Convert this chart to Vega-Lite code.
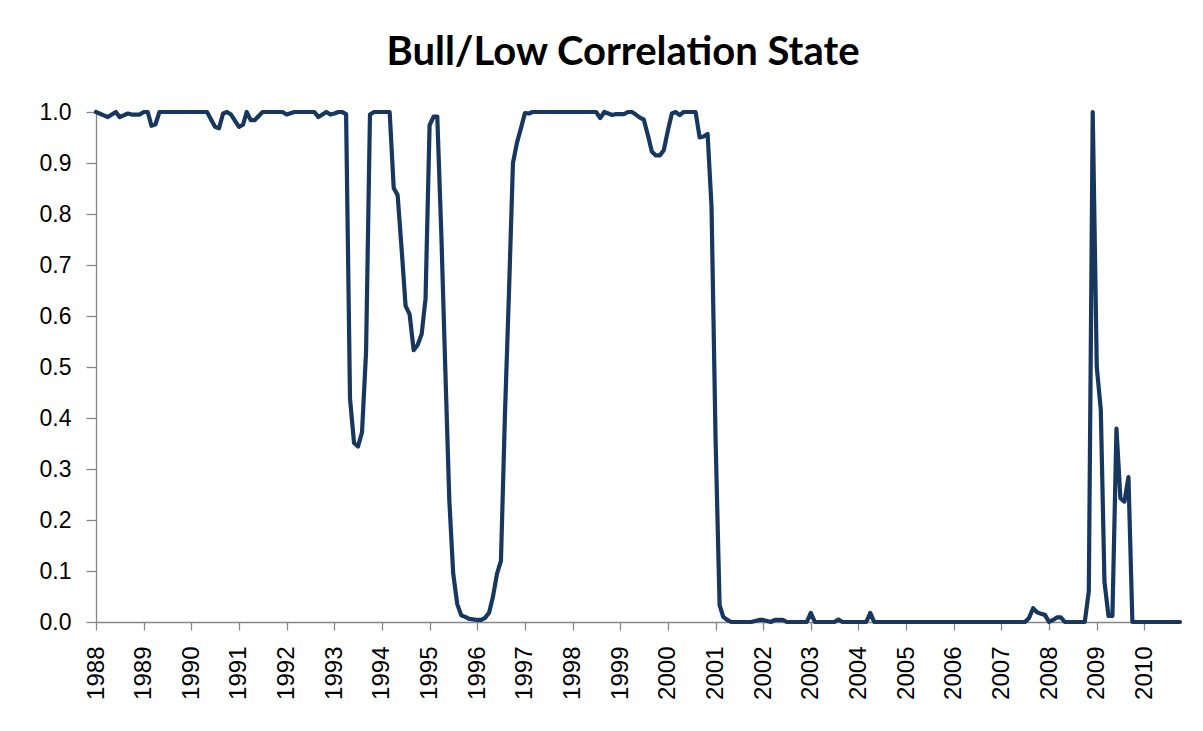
{
  "$schema": "https://vega.github.io/schema/vega-lite/v6.json",
  "autosize": "none",
  "width": 1084,
  "height": 510,
  "padding": {"left": 96, "top": 112, "right": 23, "bottom": 109},
  "background": "white",
  "config": {"view": {"stroke": null}},
  "title": {
    "text": "Bull/Low Correlation State",
    "font": "Lato",
    "fontSize": 40,
    "fontWeight": "bold",
    "color": "black",
    "anchor": "middle",
    "baseline": "alphabetic",
    "dx": -15,
    "dy": 52,
    "offset": 48
  },
  "data": {
    "values": [
      {"date": "1988-01-01", "value": 1.0},
      {"date": "1988-04-01", "value": 0.99},
      {"date": "1988-06-01", "value": 1.0},
      {"date": "1988-07-01", "value": 0.99},
      {"date": "1988-09-01", "value": 0.997},
      {"date": "1988-10-01", "value": 0.995},
      {"date": "1988-12-01", "value": 0.995},
      {"date": "1989-01-01", "value": 1.0},
      {"date": "1989-02-01", "value": 1.0},
      {"date": "1989-03-01", "value": 0.973},
      {"date": "1989-04-01", "value": 0.976},
      {"date": "1989-05-01", "value": 1.0},
      {"date": "1990-05-01", "value": 1.0},
      {"date": "1990-07-01", "value": 0.971},
      {"date": "1990-08-01", "value": 0.968},
      {"date": "1990-09-01", "value": 0.997},
      {"date": "1990-10-01", "value": 1.0},
      {"date": "1990-11-01", "value": 0.995},
      {"date": "1991-01-01", "value": 0.971},
      {"date": "1991-02-01", "value": 0.975},
      {"date": "1991-03-01", "value": 1.0},
      {"date": "1991-04-01", "value": 0.984},
      {"date": "1991-05-01", "value": 0.984},
      {"date": "1991-07-01", "value": 1.0},
      {"date": "1991-12-01", "value": 1.0},
      {"date": "1992-01-01", "value": 0.995},
      {"date": "1992-03-01", "value": 1.0},
      {"date": "1992-08-01", "value": 1.0},
      {"date": "1992-09-01", "value": 0.99},
      {"date": "1992-11-01", "value": 1.0},
      {"date": "1992-12-01", "value": 0.995},
      {"date": "1993-01-01", "value": 0.997},
      {"date": "1993-02-01", "value": 1.0},
      {"date": "1993-03-01", "value": 1.0},
      {"date": "1993-04-01", "value": 0.996},
      {"date": "1993-05-01", "value": 0.438},
      {"date": "1993-06-01", "value": 0.351},
      {"date": "1993-07-01", "value": 0.344},
      {"date": "1993-08-01", "value": 0.372},
      {"date": "1993-09-01", "value": 0.529},
      {"date": "1993-10-01", "value": 0.995},
      {"date": "1993-11-01", "value": 1.0},
      {"date": "1994-03-01", "value": 1.0},
      {"date": "1994-04-01", "value": 0.851},
      {"date": "1994-05-01", "value": 0.837},
      {"date": "1994-06-01", "value": 0.73},
      {"date": "1994-07-01", "value": 0.62},
      {"date": "1994-08-01", "value": 0.603},
      {"date": "1994-09-01", "value": 0.533},
      {"date": "1994-10-01", "value": 0.543},
      {"date": "1994-11-01", "value": 0.564},
      {"date": "1994-12-01", "value": 0.634},
      {"date": "1995-01-01", "value": 0.974},
      {"date": "1995-02-01", "value": 0.991},
      {"date": "1995-03-01", "value": 0.991},
      {"date": "1995-04-01", "value": 0.76},
      {"date": "1995-05-01", "value": 0.5},
      {"date": "1995-06-01", "value": 0.24},
      {"date": "1995-07-01", "value": 0.095},
      {"date": "1995-08-01", "value": 0.035},
      {"date": "1995-09-01", "value": 0.013},
      {"date": "1995-10-01", "value": 0.01},
      {"date": "1995-11-01", "value": 0.006},
      {"date": "1995-12-01", "value": 0.005},
      {"date": "1996-01-01", "value": 0.004},
      {"date": "1996-02-01", "value": 0.004},
      {"date": "1996-03-01", "value": 0.008},
      {"date": "1996-04-01", "value": 0.018},
      {"date": "1996-05-01", "value": 0.05},
      {"date": "1996-06-01", "value": 0.095},
      {"date": "1996-07-01", "value": 0.12},
      {"date": "1996-08-01", "value": 0.41},
      {"date": "1996-09-01", "value": 0.65},
      {"date": "1996-10-01", "value": 0.9},
      {"date": "1996-11-01", "value": 0.94},
      {"date": "1996-12-01", "value": 0.968},
      {"date": "1997-01-01", "value": 0.998},
      {"date": "1997-02-01", "value": 0.997},
      {"date": "1997-03-01", "value": 1.0},
      {"date": "1998-07-01", "value": 1.0},
      {"date": "1998-08-01", "value": 0.988},
      {"date": "1998-09-01", "value": 1.0},
      {"date": "1998-11-01", "value": 0.994},
      {"date": "1998-12-01", "value": 0.996},
      {"date": "1999-02-01", "value": 0.996},
      {"date": "1999-03-01", "value": 1.0},
      {"date": "1999-04-01", "value": 1.0},
      {"date": "1999-05-01", "value": 0.995},
      {"date": "1999-06-01", "value": 0.989},
      {"date": "1999-07-01", "value": 0.985},
      {"date": "1999-08-01", "value": 0.955},
      {"date": "1999-09-01", "value": 0.922},
      {"date": "1999-10-01", "value": 0.915},
      {"date": "1999-11-01", "value": 0.915},
      {"date": "1999-12-01", "value": 0.925},
      {"date": "2000-01-01", "value": 0.963},
      {"date": "2000-02-01", "value": 0.997},
      {"date": "2000-03-01", "value": 1.0},
      {"date": "2000-04-01", "value": 0.994},
      {"date": "2000-05-01", "value": 1.0},
      {"date": "2000-08-01", "value": 1.0},
      {"date": "2000-09-01", "value": 0.95},
      {"date": "2000-10-01", "value": 0.952},
      {"date": "2000-11-01", "value": 0.957},
      {"date": "2000-12-01", "value": 0.815},
      {"date": "2001-01-01", "value": 0.36},
      {"date": "2001-02-01", "value": 0.033},
      {"date": "2001-03-01", "value": 0.01},
      {"date": "2001-04-01", "value": 0.004},
      {"date": "2001-05-01", "value": 0.0},
      {"date": "2001-10-01", "value": 0.0},
      {"date": "2001-12-01", "value": 0.004},
      {"date": "2002-01-01", "value": 0.004},
      {"date": "2002-03-01", "value": 0.0},
      {"date": "2002-04-01", "value": 0.004},
      {"date": "2002-06-01", "value": 0.004},
      {"date": "2002-07-01", "value": 0.0},
      {"date": "2002-12-01", "value": 0.0},
      {"date": "2003-01-01", "value": 0.018},
      {"date": "2003-02-01", "value": 0.0},
      {"date": "2003-07-01", "value": 0.0},
      {"date": "2003-08-01", "value": 0.005},
      {"date": "2003-09-01", "value": 0.0},
      {"date": "2004-03-01", "value": 0.0},
      {"date": "2004-04-01", "value": 0.018},
      {"date": "2004-05-01", "value": 0.0},
      {"date": "2007-07-01", "value": 0.0},
      {"date": "2007-08-01", "value": 0.008},
      {"date": "2007-09-01", "value": 0.027},
      {"date": "2007-10-01", "value": 0.019},
      {"date": "2007-11-01", "value": 0.016},
      {"date": "2007-12-01", "value": 0.014},
      {"date": "2008-01-01", "value": 0.0},
      {"date": "2008-02-01", "value": 0.004},
      {"date": "2008-03-01", "value": 0.009},
      {"date": "2008-04-01", "value": 0.009},
      {"date": "2008-05-01", "value": 0.0},
      {"date": "2008-10-01", "value": 0.0},
      {"date": "2008-11-01", "value": 0.06},
      {"date": "2008-12-01", "value": 1.0},
      {"date": "2009-01-01", "value": 0.5},
      {"date": "2009-02-01", "value": 0.416},
      {"date": "2009-03-01", "value": 0.079},
      {"date": "2009-04-01", "value": 0.012},
      {"date": "2009-05-01", "value": 0.012},
      {"date": "2009-06-01", "value": 0.379},
      {"date": "2009-07-01", "value": 0.243},
      {"date": "2009-08-01", "value": 0.236},
      {"date": "2009-09-01", "value": 0.284},
      {"date": "2009-10-01", "value": 0.0},
      {"date": "2010-10-01", "value": 0.0}
    ]
  },
  "mark": {"type": "line", "color": "#17375E", "strokeWidth": 4.2, "strokeJoin": "round", "strokeCap": "round"},
  "encoding": {
    "x": {
      "field": "date",
      "type": "temporal",
      "scale": {"type": "utc", "nice": false},
      "axis": {
        "title": null,
        "format": "%Y",
        "tickCount": {"interval": "year", "step": 1},
        "labelAngle": 270,
        "labelFont": "Liberation Sans",
        "labelFontSize": 24,
        "labelColor": "black",
        "labelPadding": 16,
        "labelOverlap": false,
        "labelFlush": false,
        "tickSize": 8,
        "tickColor": "#878787",
        "domainColor": "#878787",
        "domainWidth": 1.3,
        "tickWidth": 1.3,
        "grid": false
      }
    },
    "y": {
      "field": "value",
      "type": "quantitative",
      "scale": {"domain": [0, 1], "nice": false, "zero": true},
      "axis": {
        "title": null,
        "values": [0, 0.1, 0.2, 0.3, 0.4, 0.5, 0.6, 0.7, 0.8, 0.9, 1.0],
        "format": ".1f",
        "labelFont": "Liberation Sans",
        "labelFontSize": 23,
        "labelColor": "black",
        "labelPadding": 15,
        "tickSize": 10,
        "tickColor": "#878787",
        "domainColor": "#878787",
        "domainWidth": 1.3,
        "tickWidth": 1.3,
        "grid": false
      }
    }
  }
}
